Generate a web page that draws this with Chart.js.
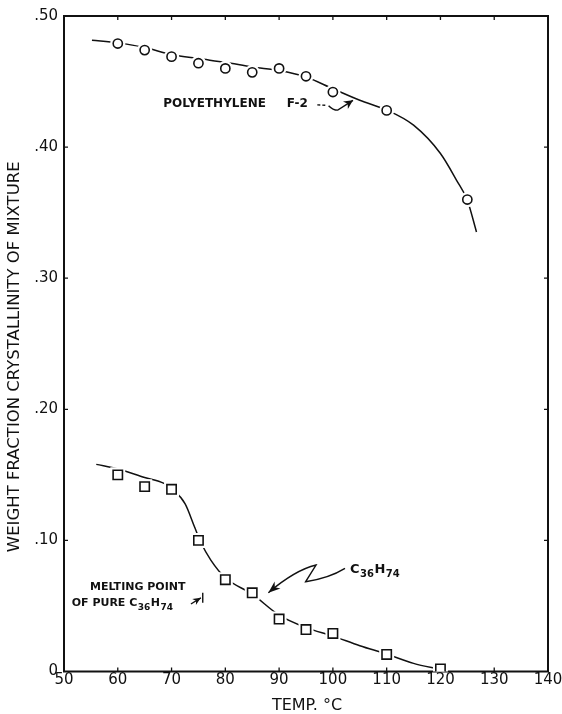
<!DOCTYPE html>
<html>
<head>
<meta charset="utf-8">
<script src="https://cdn.jsdelivr.net/npm/chart.js@4.4.1/dist/chart.umd.min.js"></script>
<style>
  html, body { margin: 0; padding: 0; background: #fff; }
  canvas { display: block; }
</style>
</head>
<body>
<canvas id="chart" width="562" height="714"></canvas>
<script>
// Measured crystallinity of polyethylene F-2 in the mixture (open circles)
const polyTemps = [60, 65, 70, 75, 80, 85, 90, 95, 100, 110, 125];
const polyCryst = [0.479, 0.474, 0.469, 0.464, 0.460, 0.457, 0.460, 0.454, 0.442, 0.428, 0.360];

// Hand-drawn trend curve through the polyethylene points
const polyCurveTemps = [55.2, 60, 65, 70, 75, 80, 85, 90, 95, 100, 105, 110, 115, 120, 123, 125, 126.7];
const polyCurveCryst = [0.4815, 0.4795, 0.476, 0.4706, 0.4675, 0.4647, 0.4611, 0.4585, 0.4535, 0.4445, 0.4357, 0.4283, 0.4167, 0.3951, 0.3747, 0.3595, 0.3353];

// Measured crystallinity of C36H74 in the mixture (open squares)
const c36Temps = [60, 65, 70, 75, 80, 85, 90, 95, 100, 110, 120];
const c36Cryst = [0.150, 0.141, 0.139, 0.100, 0.070, 0.060, 0.040, 0.032, 0.029, 0.013, 0.002];

// Hand-drawn trend curve through the C36H74 points
const c36CurveTemps = [56, 60, 65, 68.6, 70, 72.5, 74.3, 75.5, 77.3, 80, 85, 90, 95, 100, 105, 110, 115, 120];
const c36CurveCryst = [0.158, 0.1545, 0.148, 0.1435, 0.1395, 0.128, 0.110, 0.098, 0.085, 0.0715, 0.059, 0.043, 0.0335, 0.027, 0.0197, 0.0133, 0.0062, 0.0015];

// Melting point of pure C36H74, °C
const c36MeltingPoint = 75.8;

// Axis ticks
const xTicks = [50, 60, 70, 80, 90, 100, 110, 120, 130, 140];
const xTickLabels = ['50', '60', '70', '80', '90', '100', '110', '120', '130', '140'];
const yTicks = [0, 0.1, 0.2, 0.3, 0.4, 0.5];
const yTickLabels = ['0', '.10', '.20', '.30', '.40', '.50'];

const INK = '#111';
const FONT = '"DejaVu Sans", "Liberation Sans", sans-serif';

const toPoints = (xs, ys) => xs.map((x, i) => ({ x: x, y: ys[i] }));

// Box frame with short inward tick marks on all four sides
const framePlugin = {
  id: 'frame',
  beforeDatasetsDraw(chart) {
    const { ctx, chartArea: a, scales: { x, y } } = chart;
    ctx.save();
    ctx.strokeStyle = INK;
    ctx.lineWidth = 2;
    ctx.strokeRect(a.left, a.top, a.right - a.left, a.bottom - a.top);
    ctx.lineWidth = 1.3;
    ctx.beginPath();
    xTicks.slice(1, -1).forEach(v => {
      const px = x.getPixelForValue(v);
      ctx.moveTo(px, a.bottom); ctx.lineTo(px, a.bottom - 4);
      ctx.moveTo(px, a.top); ctx.lineTo(px, a.top + 4);
    });
    yTicks.slice(1, -1).forEach(v => {
      const py = y.getPixelForValue(v);
      ctx.moveTo(a.left, py); ctx.lineTo(a.left + 4, py);
      ctx.moveTo(a.right, py); ctx.lineTo(a.right - 4, py);
    });
    ctx.stroke();
    ctx.restore();
  }
};

// Axis titles
const titlesPlugin = {
  id: 'titles',
  afterDraw(chart) {
    const { ctx, chartArea: a } = chart;
    ctx.save();
    ctx.fillStyle = INK;
    ctx.textAlign = 'center';
    ctx.textBaseline = 'middle';
    ctx.font = '16px ' + FONT;
    ctx.fillText('TEMP. °C', (a.left + a.right) / 2 + 1, a.bottom + 34.5);
    ctx.font = '16.5px ' + FONT;
    ctx.translate(15, (a.top + a.bottom) / 2 + 13);
    ctx.rotate(-Math.PI / 2);
    ctx.fillText('WEIGHT FRACTION CRYSTALLINITY OF MIXTURE', 0, 0);
    ctx.restore();
  }
};

// Text labels and arrows, positioned in data coordinates
const notes = {
  poly: { x: 68.46, y: 0.4332 },
  polyF2: { x: 91.41, y: 0.4332 },
  polyArrow: [[97.1, 0.4322], [98.8, 0.4319]],
  polyArrowCurve: [[99.2, 0.4316], [100.0, 0.4282], [100.9, 0.4282]],
  polyArrowTip: [103.74, 0.4357],
  c36: { x: 103.18, y: 0.0774 },
  c36Arrow: [[102.25, 0.0787], [94.94, 0.0685], [96.86, 0.0812]],
  c36ArrowCtrl: [93.0, 0.0774],
  c36ArrowTip: [88.0, 0.0601],
  melt1: { x: 54.83, y: 0.0647 },
  melt2: { x: 51.43, y: 0.0520 },
  meltArrowFrom: [73.6, 0.0515],
  meltArrowTip: [75.45, 0.0562]
};

function drawFormula(ctx, x, y, big, small, drop) {
  // draws C36H74 with lowered subscripts, returns end x
  const parts = [['C', big, 0], ['36', small, drop], ['H', big, 0], ['74', small, drop]];
  parts.forEach(p => {
    ctx.font = 'bold ' + p[1] + 'px ' + FONT;
    ctx.fillText(p[0], x, y + p[2]);
    x += ctx.measureText(p[0]).width + 0.5;
  });
  return x;
}

function arrowHead(ctx, fx, fy, tx, ty, len, half) {
  const ang = Math.atan2(ty - fy, tx - fx);
  ctx.beginPath();
  ctx.moveTo(tx, ty);
  ctx.lineTo(tx - len * Math.cos(ang) + half * Math.sin(ang), ty - len * Math.sin(ang) - half * Math.cos(ang));
  ctx.lineTo(tx - len * 0.7 * Math.cos(ang), ty - len * 0.7 * Math.sin(ang));
  ctx.lineTo(tx - len * Math.cos(ang) - half * Math.sin(ang), ty - len * Math.sin(ang) + half * Math.cos(ang));
  ctx.closePath();
  ctx.fill();
}

const notesPlugin = {
  id: 'notes',
  afterDatasetsDraw(chart) {
    const { ctx, scales: { x, y } } = chart;
    const P = (d) => [x.getPixelForValue(d[0]), y.getPixelForValue(d[1])];
    ctx.save();
    ctx.fillStyle = INK;
    ctx.strokeStyle = INK;
    ctx.lineWidth = 1.4;
    ctx.textAlign = 'left';
    ctx.textBaseline = 'middle';

    // Polyethylene label and wavy arrow
    ctx.font = 'bold 12px ' + FONT;
    ctx.fillText('POLYETHYLENE', x.getPixelForValue(notes.poly.x), y.getPixelForValue(notes.poly.y));
    ctx.fillText('F-2', x.getPixelForValue(notes.polyF2.x), y.getPixelForValue(notes.polyF2.y));
    let a = P(notes.polyArrow[0]), b = P(notes.polyArrow[1]);
    ctx.setLineDash([3, 2]);
    ctx.beginPath(); ctx.moveTo(a[0], a[1]); ctx.lineTo(b[0], b[1]); ctx.stroke();
    ctx.setLineDash([]);
    const c0 = P(notes.polyArrowCurve[0]), c1 = P(notes.polyArrowCurve[1]), c2 = P(notes.polyArrowCurve[2]);
    const tip = P(notes.polyArrowTip);
    ctx.beginPath();
    ctx.moveTo(c0[0], c0[1]);
    ctx.quadraticCurveTo(c1[0], c1[1], c2[0], c2[1]);
    ctx.lineTo(tip[0], tip[1]);
    ctx.stroke();
    arrowHead(ctx, c2[0], c2[1], tip[0], tip[1], 9, 4.5);

    // C36H74 label and zigzag arrow
    drawFormula(ctx, x.getPixelForValue(notes.c36.x), y.getPixelForValue(notes.c36.y), 13, 10, 4);
    const z0 = P(notes.c36Arrow[0]), z1 = P(notes.c36Arrow[1]), z2 = P(notes.c36Arrow[2]);
    const zc = P(notes.c36ArrowCtrl), zt = P(notes.c36ArrowTip);
    ctx.beginPath();
    ctx.moveTo(z0[0], z0[1]);
    ctx.quadraticCurveTo((z0[0] + z1[0]) / 2 + 4, (z0[1] + z1[1]) / 2 + 3, z1[0], z1[1]);
    ctx.lineTo(z2[0], z2[1]);
    ctx.quadraticCurveTo(zc[0], zc[1], zt[0], zt[1]);
    ctx.stroke();
    arrowHead(ctx, zc[0], zc[1], zt[0], zt[1], 12, 4.5);

    // Melting point note
    ctx.font = 'bold 11px ' + FONT;
    ctx.fillText('MELTING POINT', x.getPixelForValue(notes.melt1.x), y.getPixelForValue(notes.melt1.y));
    const m2x = x.getPixelForValue(notes.melt2.x), m2y = y.getPixelForValue(notes.melt2.y);
    ctx.fillText('OF PURE ', m2x, m2y);
    const w = ctx.measureText('OF PURE ').width;
    drawFormula(ctx, m2x + w, m2y, 11, 9, 4);
    const mf = P(notes.meltArrowFrom), mt = P(notes.meltArrowTip);
    ctx.beginPath(); ctx.moveTo(mf[0], mf[1]); ctx.lineTo(mt[0], mt[1]); ctx.stroke();
    arrowHead(ctx, mf[0], mf[1], mt[0], mt[1], 8, 3.5);
    const bx = x.getPixelForValue(c36MeltingPoint), by = mt[1];
    ctx.beginPath(); ctx.moveTo(bx, by - 5); ctx.lineTo(bx, by + 5); ctx.stroke();
    ctx.restore();
  }
};

const circleR = 4.6;
const squareR = 6.6;

new Chart(document.getElementById('chart'), {
  type: 'scatter',
  data: {
    datasets: [
      {
        label: 'Polyethylene F-2 curve',
        data: toPoints(polyCurveTemps, polyCurveCryst),
        showLine: true, pointRadius: 0, borderColor: INK, borderWidth: 1.5,
        cubicInterpolationMode: 'monotone', order: 3
      },
      {
        label: 'C36H74 curve',
        data: toPoints(c36CurveTemps, c36CurveCryst),
        showLine: true, pointRadius: 0, borderColor: INK, borderWidth: 1.5,
        cubicInterpolationMode: 'monotone', order: 3
      },
      {
        label: 'Polyethylene F-2 clearance',
        data: toPoints(polyTemps, polyCryst),
        pointStyle: 'circle', pointRadius: circleR + 3,
        pointBackgroundColor: '#fff', pointBorderColor: '#fff', pointBorderWidth: 0, order: 2
      },
      {
        label: 'C36H74 clearance',
        data: toPoints(c36Temps, c36Cryst),
        pointStyle: 'rect', pointRadius: squareR + 4,
        pointBackgroundColor: '#fff', pointBorderColor: '#fff', pointBorderWidth: 0, order: 2
      },
      {
        label: 'Polyethylene F-2',
        data: toPoints(polyTemps, polyCryst),
        pointStyle: 'circle', pointRadius: circleR,
        pointBackgroundColor: '#fff', pointBorderColor: INK, pointBorderWidth: 1.6, order: 1
      },
      {
        label: 'C36H74',
        data: toPoints(c36Temps, c36Cryst),
        pointStyle: 'rect', pointRadius: squareR,
        pointBackgroundColor: '#fff', pointBorderColor: INK, pointBorderWidth: 1.6, order: 1
      }
    ]
  },
  options: {
    responsive: false,
    animation: false,
    events: [],
    layout: { padding: { left: 0, top: 16, right: 14, bottom: 0 } },
    plugins: { legend: { display: false }, tooltip: { enabled: false } },
    scales: {
      x: {
        type: 'linear', min: 50, max: 140,
        afterBuildTicks: s => { s.ticks = xTicks.map(v => ({ value: v })); },
        afterFit: s => { s.height = 42.5; s.paddingLeft = 0; s.paddingRight = 0; },
        grid: { display: false, drawTicks: false },
        border: { display: false },
        ticks: {
          color: INK, padding: 0, maxRotation: 0, autoSkip: false,
          font: { family: FONT, size: 15 },
          callback: (v, i) => xTickLabels[i]
        }
      },
      y: {
        type: 'linear', min: 0, max: 0.5,
        afterBuildTicks: s => { s.ticks = yTicks.map(v => ({ value: v })); },
        afterFit: s => { s.width = 64; },
        grid: { display: false, drawTicks: false },
        border: { display: false },
        ticks: {
          color: INK, padding: 6, autoSkip: false,
          font: { family: FONT, size: 15 },
          callback: (v, i) => yTickLabels[i]
        }
      }
    }
  },
  plugins: [framePlugin, notesPlugin, titlesPlugin]
});
</script>
</body>
</html>
